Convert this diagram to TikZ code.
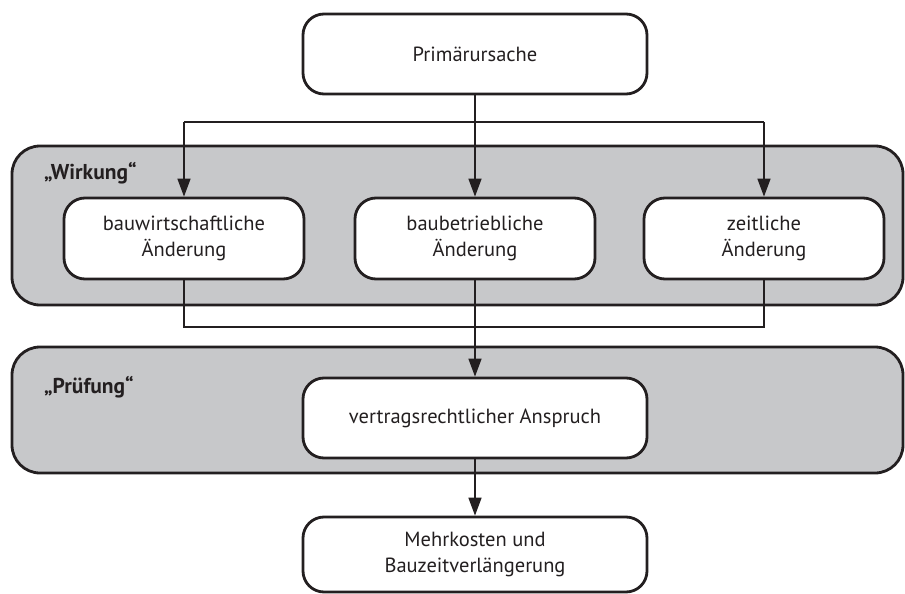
\documentclass[tikz,border=0pt]{standalone}
\usepackage{fontspec}
\setmainfont{PT Sans}
\usetikzlibrary{arrows.meta}
\definecolor{bandgray}{RGB}{199,200,202}
\definecolor{inkc}{RGB}{35,31,32}
\tikzset{
  band/.style={draw=inkc, line width=2.8pt, fill=bandgray, rounded corners=28pt, minimum width=891pt, inner sep=0pt},
  box/.style={draw=inkc, line width=2.8pt, fill=white, rounded corners=21pt, minimum height=80pt, inner sep=0pt, align=center, font=\fontsize{20.5}{26}\selectfont, text=inkc},
  conn/.style={draw=inkc, line width=1.6pt},
  arr/.style={conn, -{Triangle[length=18pt,width=13pt]}},
  bandlabel/.style={anchor=base west, inner sep=0pt, font=\fontsize{21.5}{24}\selectfont\bfseries, text=inkc}
}
\begin{document}
\begin{tikzpicture}[x=1pt,y=-1pt]
\useasboundingbox (0,0) rectangle (905,594);
% bands
\node[band, minimum height=159pt] (wband) at (457.5,225.5) {};
\node[band, minimum height=126pt] (pband) at (457.5,410) {};
\node[bandlabel] (wlabel) at (44,179) {„Wirkung“};
\node[bandlabel] (plabel) at (44,393) {„Prüfung“};
% boxes
\node[box, minimum width=344pt] (prim) at (475,54) {Primärursache};
\node[box, minimum width=240pt, minimum height=81pt] (b1) at (184,238.5) {bauwirtschaftliche\\Änderung};
\node[box, minimum width=240pt, minimum height=81pt] (b2) at (475,238.5) {baubetriebliche\\Änderung};
\node[box, minimum width=240pt, minimum height=81pt] (b3) at (764,238.5) {zeitliche\\Änderung};
\node[box, minimum width=344pt] (vert) at (475,418) {vertragsrechtlicher Anspruch};
\node[box, minimum width=344pt, minimum height=75pt] (mehr) at (475,554.5) {Mehrkosten und\\Bauzeitverlängerung};
% upper connectors
\coordinate (sl) at (184,122);
\coordinate (sr) at (764,122);
\draw[conn] (sl) -- (sr);
\draw[arr] (prim.south) -- (b2.north);
\draw[arr] (sl) -- (b1.north);
\draw[arr] (sr) -- (b3.north);
% lower connectors
\coordinate (jl) at (184,327);
\coordinate (jr) at (764,327);
\draw[conn] (b1.south) -- (jl) -- (jr) -- (b3.south);
\draw[arr] (b2.south) -- (vert.north);
\draw[arr] (vert.south) -- (mehr.north);
\end{tikzpicture}
\end{document}
